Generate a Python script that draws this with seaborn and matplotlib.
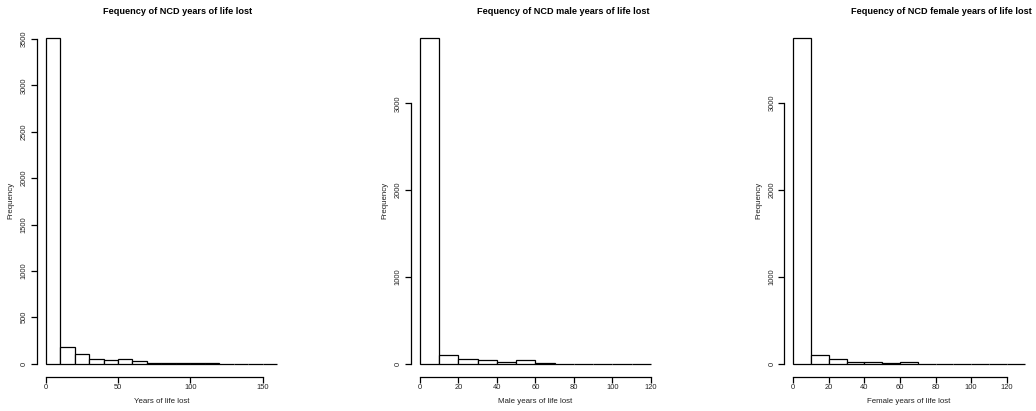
import matplotlib
matplotlib.use("Agg")
import matplotlib.pyplot as plt
import seaborn as sns
import numpy as np
import pandas as pd

# ---- data (bin edges and counts) ----
edges_all = [0, 10, 20, 30, 40, 50, 60, 70, 80, 90, 100, 110, 120, 130, 140, 150, 160]
counts_all = [3510, 184, 105, 51, 40, 51, 25, 8, 6, 2, 2, 8, 1, 1, 1, 1]

edges_male = [0, 10, 20, 30, 40, 50, 60, 70, 80, 90, 100, 110, 120]
counts_male = [3754, 100, 58, 38, 20, 38, 10, 2, 1, 1, 1, 1]

edges_female = [0, 10, 20, 30, 40, 50, 60, 70, 80, 90, 100, 110, 120, 130]
counts_female = [3750, 104, 58, 20, 20, 12, 15, 1, 1, 1, 1, 1, 1]

titles = ["Fequency of NCD years of life lost",
          "Fequency of NCD male years of life lost",
          "Fequency of NCD female years of life lost"]
xlabels = ["Years of life lost", "Male years of life lost", "Female years of life lost"]
xticks_list = [[0, 50, 100, 150], [0, 20, 40, 60, 80, 100, 120], [0, 20, 40, 60, 80, 100, 120]]
yticks_list = [[0, 500, 1000, 1500, 2000, 2500, 3000, 3500], [0, 1000, 2000, 3000], [0, 1000, 2000, 3000]]

sns.set_theme(style="ticks")
plt.rcParams['font.family'] = ['Liberation Sans', 'DejaVu Sans']

W, H = 1036, 411
fig = plt.figure(figsize=(W / 100, H / 100), dpi=100)
fig.patch.set_facecolor("white")

lefts = [36.5, 410.5, 784.0]
title_cx = [177.5, 563.5, 941.0]
plot_w = 249.8
bottom_px, top_px = 376.7, 25.0

datasets = [(edges_all, counts_all), (edges_male, counts_male), (edges_female, counts_female)]
for i, (edges, counts) in enumerate(datasets):
    ax = fig.add_axes([lefts[i] / W, 1 - bottom_px / H, plot_w / W, (bottom_px - top_px) / H])
    e = np.asarray(edges, dtype=float)
    df = pd.DataFrame({"mid": (e[:-1] + e[1:]) / 2, "count": counts})
    sns.histplot(data=df, x="mid", weights="count", bins=list(edges), ax=ax,
                 color="white", edgecolor="black", linewidth=0.9, alpha=1)
    xr = e[-1] - e[0]
    ax.set_xlim(e[0] - 0.04 * xr, e[-1] + 0.04 * xr)
    ymax = max(counts)
    ax.set_ylim(-0.04 * ymax, 1.04 * ymax)
    ax.set_xticks(xticks_list[i])
    ax.set_yticks(yticks_list[i])
    ax.set_yticklabels([str(v) for v in yticks_list[i]], rotation=90, va="center")
    ax.spines["top"].set_visible(False)
    ax.spines["right"].set_visible(False)
    ax.spines["left"].set_bounds(yticks_list[i][0], yticks_list[i][-1])
    ax.spines["bottom"].set_bounds(xticks_list[i][0], xticks_list[i][-1])
    for s in ("left", "bottom"):
        ax.spines[s].set_linewidth(0.9)
        ax.spines[s].set_color("black")
    ax.tick_params(axis="both", direction="out", length=4, width=0.9, labelsize=5.4,
                   colors="black", labelcolor="#222222")
    ax.tick_params(axis="y", pad=2.2)
    ax.tick_params(axis="x", pad=1.5)
    ax.set_xlabel(xlabels[i], fontsize=5.7, color="#222222", labelpad=5)
    ax.set_ylabel("Frequency", fontsize=5.7, color="#222222", labelpad=4.5)
    ax.set_facecolor("white")
    fig.text(title_cx[i] / W, 1 - 12 / H, titles[i], ha="center", va="center",
             fontsize=6.6, fontweight="bold", color="black")

fig.savefig("out.png", dpi=100, facecolor="white")
